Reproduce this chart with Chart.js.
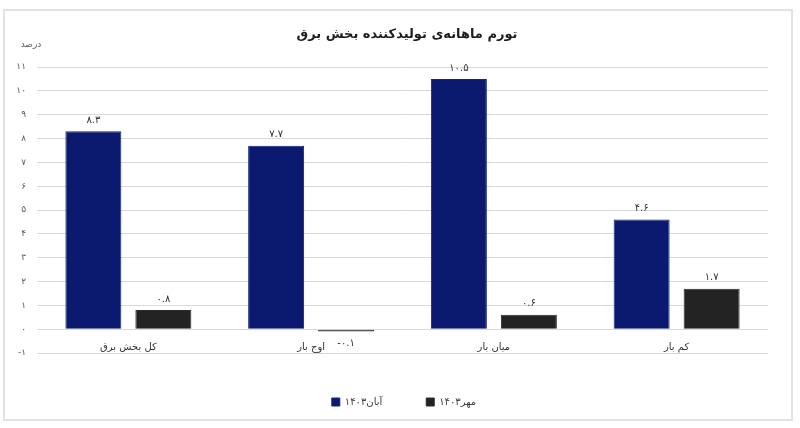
<!DOCTYPE html>
<html lang="fa">
<head>
<meta charset="utf-8">
<script src="https://cdn.jsdelivr.net/npm/chart.js@4/dist/chart.umd.min.js"></script>
<style>
  html, body { margin: 0; padding: 0; background: #ffffff; }
  #wrap { position: relative; width: 800px; height: 428px; }
</style>
</head>
<body>
<div id="wrap"><canvas id="c" width="800" height="428"></canvas></div>
<script>
// ---- data ----
const chartTitle = 'تورم ماهانه‌ی تولیدکننده بخش برق';
const unitLabel = 'درصد';
const categories = ['کل بخش برق', 'اوج بار', 'میان بار', 'کم بار'];
const seriesNames = ['آبان۱۴۰۳', 'مهر۱۴۰۳'];
const abanValues = [8.3, 7.7, 10.5, 4.6];
const mehrValues = [0.8, -0.1, 0.6, 1.7];
const yMin = -1;
const yMax = 11;
const yStep = 1;

const faDigits = ['۰','۱','۲','۳','۴','۵','۶','۷','۸','۹'];
function toFa(v) {
  return String(v).replace(/[0-9]/g, d => faDigits[+d]);
}

const FONT = "'DejaVu Sans', 'Noto Sans', sans-serif";
Chart.defaults.font.family = FONT;

const framePlugin = {
  id: 'frame',
  beforeDraw(chart) {
    const ctx = chart.ctx;
    ctx.save();
    ctx.fillStyle = '#ffffff';
    ctx.fillRect(0, 0, chart.width, chart.height);
    ctx.strokeStyle = '#e2e2e2';
    ctx.lineWidth = 2;
    ctx.strokeRect(4, 10, 788, 410);
    ctx.restore();
  },
  afterDraw(chart) {
    const ctx = chart.ctx;
    ctx.save();
    ctx.fillStyle = '#1e1e1e';
    ctx.font = "bold 13px " + FONT;
    ctx.textAlign = 'center';
    ctx.textBaseline = 'middle';
    ctx.fillText(chartTitle, 407, 35);
    ctx.fillStyle = '#595959';
    ctx.font = "9px " + FONT;
    ctx.fillText(unitLabel, 31, 45);
    ctx.restore();
  }
};

const valueLabels = {
  id: 'valueLabels',
  afterDatasetsDraw(chart) {
    const ctx = chart.ctx;
    ctx.save();
    ctx.fillStyle = '#333333';
    ctx.font = "10px " + FONT;
    ctx.textAlign = 'center';
    ctx.textBaseline = 'middle';
    chart.data.datasets.forEach((ds, di) => {
      const meta = chart.getDatasetMeta(di);
      meta.data.forEach((bar, i) => {
        const v = ds.data[i];
        const y = v >= 0 ? bar.y - 11 : bar.y + 12;
        ctx.fillText(toFa(v), bar.x, y);
      });
    });
    ctx.restore();
  }
};

new Chart(document.getElementById('c'), {
  type: 'bar',
  data: {
    labels: categories,
    datasets: [
      { label: seriesNames[0], data: abanValues, backgroundColor: '#0b1a6e', borderColor: '#13257c', borderWidth: 1 },
      { label: seriesNames[1], data: mehrValues, backgroundColor: '#232323', borderColor: '#2c2c2c', borderWidth: 1 }
    ]
  },
  options: {
    responsive: false,
    animation: false,
    categoryPercentage: 0.766,
    barPercentage: 0.8,
    layout: { padding: { top: 67, left: 8, right: 0, bottom: 11 } },
    plugins: {
      legend: {
        position: 'bottom',
        labels: {
          boxWidth: 8,
          boxHeight: 8,
          padding: 44,
          color: '#404040',
          font: { size: 10, family: FONT }
        }
      },
      title: { display: false },
      tooltip: { enabled: false }
    },
    scales: {
      x: {
        position: { y: 0 },
        grid: { display: false, drawTicks: false },
        border: { display: false },
        ticks: { color: '#333333', padding: 12, font: { size: 10, family: FONT } }
      },
      y: {
        min: yMin,
        max: yMax,
        grid: { color: '#d9d9d9', lineWidth: 1, drawTicks: false },
        border: { display: false },
        ticks: {
          stepSize: yStep,
          padding: 11,
          color: '#595959',
          font: { size: 9, family: FONT },
          callback: v => toFa(v)
        },
        afterFit(s) { s.width = 29; }
      },
      yR: {
        type: 'linear',
        position: 'right',
        display: true,
        grid: { display: false, drawTicks: false },
        border: { display: false },
        ticks: { display: false },
        afterFit(s) { s.width = 32; }
      }
    }
  },
  plugins: [framePlugin, valueLabels]
});
</script>
</body>
</html>
